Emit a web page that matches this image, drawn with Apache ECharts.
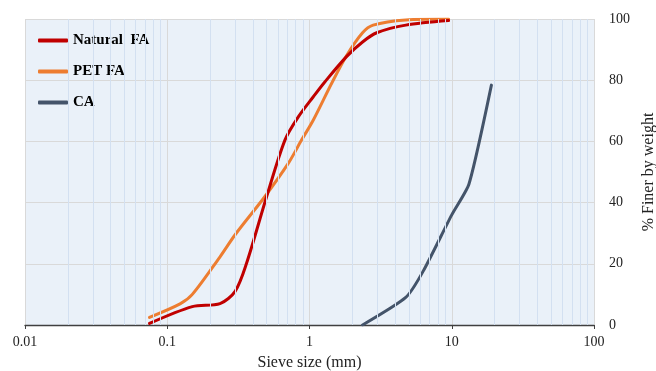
<!DOCTYPE html>
<html>
<head>
<meta charset="utf-8">
<script src="https://cdn.jsdelivr.net/npm/echarts@6/dist/echarts.min.js"></script>
<style>html,body{margin:0;padding:0;background:#fff;}#c{width:656px;height:371px;}</style>
</head>
<body>
<div id="c"></div>
<script>
// Data
var natSize  = [0.075, 0.15, 0.235, 0.3, 0.36, 0.5, 0.673, 0.834, 1.064, 1.285, 1.82, 2.36, 2.97, 4.75, 9.5];
var natFiner = [0.5,   6,    7,     11,  20,   42,  60.5,  68,    74.6,  79.5,  87.7, 92.5, 95.5, 98,   99.5];
var petSize  = [0.075, 0.123, 0.15, 0.235, 0.3,  0.486, 0.709, 0.881, 1.064, 1.432, 1.82, 2.36, 2.8, 4.75, 9.5];
var petFiner = [2.5,   6.9,   10,   22.3,  29.5, 42,    52.8,  60.5,  67,    79,    88,   95.5, 98,  99.7, 100];
var caSize   = [2.36, 4.75, 6.3,  10, 13.2, 19];
var caFiner  = [0,    9,    17.6, 36, 46,   78.4];
var xTickLabels = ['0.01', '0.1', '1', '10', '100'];
var yTicks = [0, 20, 40, 60, 80, 100];
var minorGrid = [0.02,0.03,0.04,0.05,0.06,0.07,0.08,0.09,
                 0.2,0.3,0.4,0.5,0.6,0.7,0.8,0.9,
                 2,3,4,5,6,7,8,9,
                 20,30,40,50,60,70,80,90];
var seriesNames = ['Natural  FA', 'PET FA', 'CA'];
var colors = ['#c00000', '#ed7d31', '#44546a'];

function pairs(xs, ys) { return xs.map(function (x, i) { return [x, ys[i]]; }); }

var font = 'Liberation Serif';
var chart = echarts.init(document.getElementById('c'), null, {renderer: 'canvas'});
chart.setOption({
  animation: false,
  textStyle: {fontFamily: font},
  grid: {left: 25, right: 62, top: 19, bottom: 46, show: true, backgroundColor: '#eaf1f9', borderWidth: 0,
         containLabel: false, outerBoundsMode: 'none'},
  legend: {
    data: seriesNames,
    orient: 'vertical', left: 33, top: 28,
    itemWidth: 30, itemHeight: 4, itemGap: 16,
    icon: 'roundRect',
    textStyle: {fontFamily: font, fontWeight: 'bold', fontSize: 15, color: '#000'}
  },
  xAxis: {
    type: 'log', logBase: 10, min: 0.01, max: 100,
    name: 'Sieve size (mm)', nameLocation: 'middle', nameGap: 30,
    nameTextStyle: {fontFamily: font, fontSize: 16, color: '#222'},
    axisLine: {show: true, onZero: false, lineStyle: {color: '#404040', width: 1.3}},
    axisTick: {show: true, inside: false, length: 4, lineStyle: {color: '#404040'}},
    axisLabel: {
      fontFamily: font, fontSize: 14, color: '#222', margin: 10,
      formatter: function (v) {
        var i = Math.round(Math.log10(v)) + 2;
        return xTickLabels[i] !== undefined ? xTickLabels[i] : '';
      }
    },
    splitLine: {show: true, lineStyle: {color: '#d9d9d9', width: 1}}
  },
  yAxis: {
    type: 'value', position: 'right', min: 0, max: 100, interval: 20,
    name: '% Finer by weight', nameLocation: 'middle', nameGap: 46, nameRotate: 90,
    nameTextStyle: {fontFamily: font, fontSize: 16, color: '#222'},
    axisLine: {show: false},
    axisTick: {show: false},
    axisLabel: {fontFamily: font, fontSize: 14, color: '#222', margin: 15, align: 'left',
      formatter: function (v) { return yTicks.indexOf(v) >= 0 ? String(v) : ''; }},
    splitLine: {show: true, lineStyle: {color: '#d9d9d9', width: 1}}
  },
  series: [
    {
      name: '_minor', type: 'line', data: [], silent: true, z: 1,
      markLine: {
        silent: true, symbol: ['none', 'none'], label: {show: false},
        lineStyle: {color: '#d3e0f1', width: 1, type: 'solid'},
        data: minorGrid.map(function (v) { return {xAxis: v}; })
      }
    },
    {
      name: seriesNames[0], type: 'line', data: pairs(natSize, natFiner),
      smooth: 0.3, showSymbol: false, symbol: 'none', z: 4,
      lineStyle: {color: colors[0], width: 3, cap: 'round'}, itemStyle: {color: colors[0]}
    },
    {
      name: seriesNames[1], type: 'line', data: pairs(petSize, petFiner),
      smooth: 0.3, showSymbol: false, symbol: 'none', z: 3,
      lineStyle: {color: colors[1], width: 3, cap: 'round'}, itemStyle: {color: colors[1]}
    },
    {
      name: seriesNames[2], type: 'line', data: pairs(caSize, caFiner),
      smooth: 0.2, showSymbol: false, symbol: 'none', z: 3,
      lineStyle: {color: colors[2], width: 3, cap: 'round'}, itemStyle: {color: colors[2]}
    }
  ]
});
</script>
</body>
</html>
